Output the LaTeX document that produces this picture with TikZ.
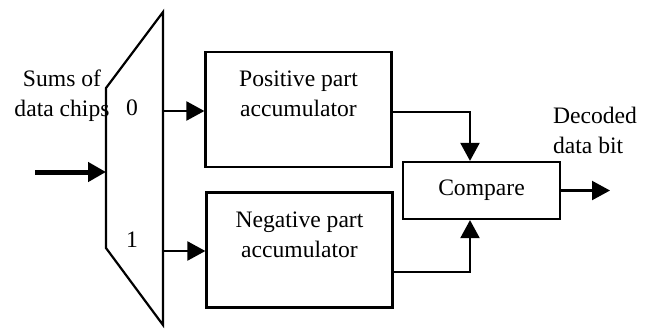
\documentclass[tikz,border=0pt]{standalone}
\usepackage{fontspec}
\setmainfont{Liberation Serif}
\usetikzlibrary{arrows.meta,positioning,calc}

\tikzset{
  accbox/.style={draw, line width=1.1pt, minimum width=93pt, minimum height=57.5pt},
  cmpbox/.style={draw, line width=1.1pt, minimum width=78.5pt, minimum height=28.5pt},
  wire/.style={line width=1.1pt, -{Triangle[length=9pt,width=9.5pt]}},
  bigwire/.style={line width=2.5pt, -{Triangle[length=9pt,width=9.5pt]}}
}

\begin{document}
\begin{tikzpicture}[x=0.5pt,y=-0.5pt,
    font=\fontsize{11.8pt}{15pt}\selectfont]
      \useasboundingbox (0,0) rectangle (647,328);
      % The multiplexer
      \coordinate (muxtl) at (106,88);
      \coordinate (muxtr) at (163,12);
      \coordinate (muxbr) at (163,325);
      \coordinate (muxbl) at (106,248);
      \draw[line width=1.1pt, line join=miter]
        (muxtl) -- (muxtr) -- (muxbr) -- (muxbl) -- cycle;
      \node (zero) at (132,108) {0};
      \node (one)  at (132,240) {1};
      \coordinate (muxin) at (106,172);
      \coordinate (src)   at (35,172);
      \coordinate (mux0)  at (163,111);
      \coordinate (mux1)  at (163,251);
      \node[align=center] (sums) at (62,96) {Sums of\\data chips};
      % The accumulators
      \node[accbox,
        label={[align=center,yshift=8pt]center:Positive part\\accumulator}]
        (posacc) at (298.5,109.5) {};
      \node[accbox,
        label={[align=center,yshift=7.5pt]center:Negative part\\accumulator}]
        (negacc) at (299.5,250) {};
      \node[cmpbox] (cmp) at (481.5,190.5) {Compare};
      \coordinate (out) at (610,190.5);
      \node[align=left, anchor=north west] (dec) at (546,100) {Decoded\\data bit};
      % Connect them
      \draw[bigwire] (src) -- (muxin);
      \draw[wire] (mux0) -- (mux0 -| posacc.west);
      \draw[wire] (mux1) -- (mux1 -| negacc.west);
      \draw[wire] ([yshift=-1.25pt]posacc.east) -| ([xshift=-5.75pt]cmp.north);
      \draw[wire] ([yshift=-11pt]negacc.east) -| ([xshift=-5.75pt]cmp.south);
      \draw[wire] (cmp) -- (out);
    \end{tikzpicture}
\end{document}
